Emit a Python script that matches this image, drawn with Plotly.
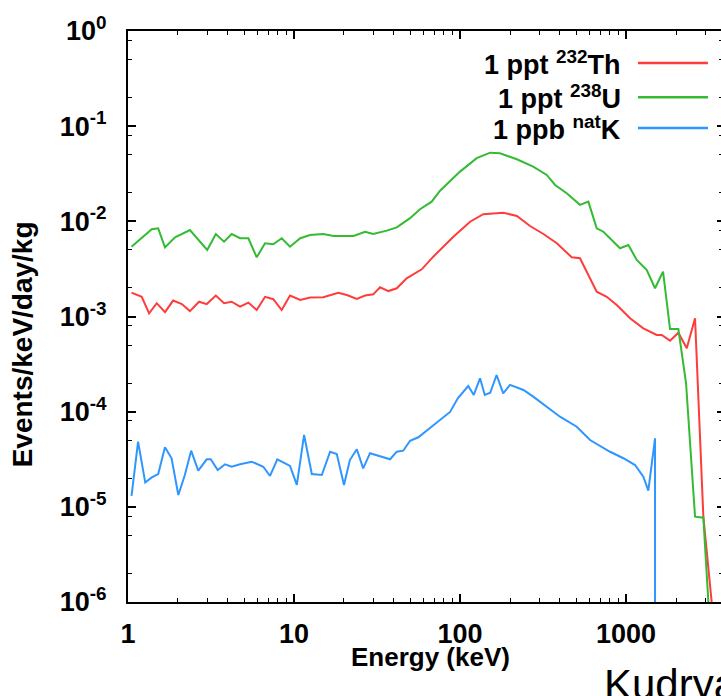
import plotly.graph_objects as go

# ---- data ----
E_th = [1.05, 1.21, 1.34, 1.49, 1.67, 1.87, 2.11, 2.36, 2.68, 2.98, 3.38, 3.79, 4.21, 4.73, 5.31,
        5.96, 6.69, 7.50, 8.43, 9.46, 10.9, 12.5, 15.0, 18.5, 20.8, 23.9, 26.8, 30.0, 33.0, 37.0,
        41.6, 47.7, 58.8, 69.0, 91.2, 115, 138, 182, 220, 264, 318, 383, 471, 528, 666,
        765, 879, 1057, 1271, 1530, 1640, 1841, 2066, 2321, 2604, 2922, 3730]
rate_th = [1.78e-3, 1.61e-3, 1.08e-3, 1.38e-3, 1.11e-3, 1.47e-3, 1.35e-3, 1.14e-3, 1.43e-3, 1.35e-3,
           1.66e-3, 1.38e-3, 1.43e-3, 1.27e-3, 1.40e-3, 1.17e-3, 1.61e-3, 1.52e-3, 1.17e-3, 1.66e-3,
           1.49e-3, 1.58e-3, 1.59e-3, 1.78e-3, 1.68e-3, 1.53e-3, 1.66e-3, 1.71e-3, 2.03e-3, 1.85e-3,
           1.98e-3, 2.52e-3, 3.13e-3, 4.25e-3, 6.90e-3, 9.91e-3, 1.19e-2, 1.23e-2, 1.14e-2, 8.93e-3,
           7.36e-3, 5.88e-3, 4.19e-3, 4.09e-3, 1.82e-3, 1.61e-3, 1.32e-3, 9.58e-4, 7.52e-4, 6.39e-4,
           6.39e-4, 5.57e-4, 6.76e-4, 4.64e-4, 9.58e-4, 7.88e-6, 1e-7]

E_u = [1.05, 1.39, 1.52, 1.67, 1.92, 2.36, 3.00, 3.38, 3.79, 4.21, 4.73, 5.31, 5.96, 6.69, 7.50,
       8.43, 9.46, 10.9, 12.5, 15.0, 17.3, 22.8, 26.8, 30.0, 36.2, 41.6, 50.0, 57.4, 67.5, 75.8,
       100, 126, 152, 174, 220, 276, 333, 374, 439, 528, 593, 666, 730, 838, 920, 1033, 1160,
       1333, 1495, 1671, 1841, 2066, 2298, 2604, 2922, 3390]
rate_u = [5.42e-3, 8.25e-3, 8.45e-3, 5.33e-3, 6.80e-3, 8.11e-3, 5.00e-3, 7.36e-3, 6.11e-3, 7.36e-3,
          6.64e-3, 6.64e-3, 4.19e-3, 5.88e-3, 5.74e-3, 6.64e-3, 5.42e-3, 6.64e-3, 7.18e-3, 7.36e-3,
          7.02e-3, 7.02e-3, 7.78e-3, 7.36e-3, 7.98e-3, 8.65e-3, 1.08e-2, 1.34e-2, 1.61e-2, 2.10e-2,
          3.33e-2, 4.61e-2, 5.27e-2, 5.19e-2, 4.49e-2, 3.75e-2, 3.07e-2, 2.41e-2, 1.97e-2, 1.49e-2,
          1.61e-2, 8.45e-3, 7.78e-3, 6.11e-3, 5.21e-3, 5.64e-3, 3.93e-3, 3.08e-3, 1.98e-3, 2.96e-3,
          7.39e-4, 7.39e-4, 2.00e-4, 7.88e-6, 7.69e-6, 1e-7]

E_k = [1.05, 1.15, 1.27, 1.39, 1.52, 1.67, 1.83, 2.01, 2.20, 2.40, 2.65, 2.98, 3.15, 3.47, 3.84,
       4.21, 4.73, 5.56, 6.53, 7.17, 7.93, 9.46, 10.4, 11.5, 12.8, 14.7, 16.5, 18.1, 20.0, 21.7,
       23.9, 26.1, 28.7, 33.0, 37.9, 41.6, 45.5, 50.0, 56.1, 65.9, 75.8, 87.1, 97.2, 112, 121,
       132, 141, 152, 166, 182, 200, 241, 276, 325, 400, 505, 607, 801, 964, 1133, 1271, 1362,
       1495, 1496]
rate_k = [1.30e-5, 4.84e-5, 1.80e-5, 2.04e-5, 2.21e-5, 4.23e-5, 3.24e-5, 1.33e-5, 2.16e-5, 3.89e-5,
          2.40e-5, 3.16e-5, 3.16e-5, 2.44e-5, 2.80e-5, 2.64e-5, 2.80e-5, 2.98e-5, 2.64e-5, 2.11e-5,
          3.16e-5, 2.69e-5, 1.70e-5, 5.69e-5, 2.21e-5, 2.16e-5, 3.79e-5, 3.59e-5, 1.70e-5, 3.10e-5,
          4.03e-5, 2.54e-5, 3.66e-5, 3.42e-5, 3.16e-5, 3.80e-5, 3.89e-5, 4.95e-5, 5.38e-5, 6.74e-5,
          8.18e-5, 9.93e-5, 1.39e-4, 1.86e-4, 1.50e-4, 2.24e-4, 1.50e-4, 1.58e-4, 2.43e-4, 1.56e-4,
          1.91e-4, 1.69e-4, 1.44e-4, 1.17e-4, 8.85e-5, 6.95e-5, 5.04e-5, 3.79e-5, 3.24e-5, 2.75e-5,
          2.07e-5, 1.48e-5, 5.25e-5, 1e-8]

legend_labels = ["1 ppt <sup>232</sup>Th", "1 ppt <sup>238</sup>U", "1 ppb <sup>nat</sup>K"]
colors = ["#ff3c3c", "#33bb33", "#2f96ff"]

x_tickvals = [1, 10, 100, 1000]
x_ticktext = ["1", "10", "100", "1000"]
x_minor = [2, 3, 4, 5, 6, 7, 8, 9, 20, 30, 40, 50, 60, 70, 80, 90,
           200, 300, 400, 500, 600, 700, 800, 900, 2000, 3000]
y_tickvals = [1, 1e-1, 1e-2, 1e-3, 1e-4, 1e-5, 1e-6]
y_ticktext = ["10<sup>0</sup>", "10<sup>-1</sup>", "10<sup>-2</sup>", "10<sup>-3</sup>",
              "10<sup>-4</sup>", "10<sup>-5</sup>", "10<sup>-6</sup>"]
y_minor = [m * 10.0 ** p for p in range(-6, 0) for m in (2, 5, 8)]

FONT = "Liberation Sans, Arial, sans-serif"

fig = go.Figure()
for E, r, c in zip([E_th, E_u, E_k], [rate_th, rate_u, rate_k], colors):
    fig.add_trace(go.Scatter(x=E, y=r, mode="lines", line=dict(color=c, width=2),
                             showlegend=False, hoverinfo="skip"))
# empty trace so the right-hand (mirror) tick axis is drawn
fig.add_trace(go.Scatter(x=[None], y=[None], yaxis="y2", showlegend=False, hoverinfo="skip"))

fig.update_layout(
    width=721, height=696,
    margin=dict(l=128, r=0, t=31, b=94),
    plot_bgcolor="white", paper_bgcolor="white",
    font=dict(family=FONT, color="black"),
    xaxis=dict(type="log", range=[0, 3.572], showgrid=False, zeroline=False,
               showline=True, linecolor="black", linewidth=2, mirror="ticks",
               ticks="inside", ticklen=8, tickwidth=1.5, tickcolor="black",
               tickvals=x_tickvals, ticktext=["<b>%s</b>" % t for t in x_ticktext],
               tickfont=dict(size=27, family=FONT), ticklabelstandoff=7,
               minor=dict(tickvals=x_minor, ticks="inside", ticklen=4, tickwidth=1.2, tickcolor="black")),
    yaxis=dict(type="log", range=[-6, 0], showgrid=False, zeroline=False,
               showline=True, linecolor="black", linewidth=2, mirror=False,
               ticks="inside", ticklen=8, tickwidth=1.5, tickcolor="black",
               tickvals=y_tickvals, ticktext=["<b>%s</b>" % t for t in y_ticktext],
               tickfont=dict(size=27, family=FONT), ticklabelstandoff=14,
               minor=dict(tickvals=y_minor, ticks="inside", ticklen=4, tickwidth=1.2, tickcolor="black")),
    yaxis2=dict(type="log", range=[-6, 0], overlaying="y", side="right", showgrid=False,
                zeroline=False, showline=False, showticklabels=False,
                ticks="inside", ticklen=4, tickwidth=1.5, tickcolor="black", tickvals=y_tickvals,
                minor=dict(tickvals=y_minor, ticks="inside", ticklen=2, tickwidth=1.2, tickcolor="black")),
)

# x axis title and y axis title
fig.add_annotation(text="<b>Energy (keV)</b>", xref="paper", yref="paper", x=0.51, y=-0.097,
                   xanchor="center", yanchor="middle", showarrow=False, font=dict(size=26, family=FONT))
fig.add_annotation(text="<b>Events/keV/day/kg</b>", xref="paper", yref="paper", x=-0.178, y=0.452,
                   xanchor="center", yanchor="middle", textangle=-90, showarrow=False,
                   font=dict(size=28, family=FONT))

# legend (text on left, line sample on right)
leg_y = [0.944, 0.884, 0.830]
for lab, c, yy in zip(legend_labels, colors, leg_y):
    fig.add_annotation(text="<b>%s</b>" % lab, xref="paper", yref="paper", x=0.834, y=yy,
                       xanchor="right", yanchor="middle", showarrow=False, font=dict(size=27, family=FONT))
    fig.add_shape(type="line", xref="paper", yref="paper", x0=0.860, x1=0.978, y0=yy, y1=yy,
                  line=dict(color=c, width=2.5))

# citation text cut at right edge
fig.add_annotation(text="Kudryavtsev", xref="paper", yref="paper", x=(602 - 128) / 593, y=-0.1,
                   xanchor="left", yanchor="top", showarrow=False, font=dict(size=42, family=FONT))

fig.write_html("out.html")
